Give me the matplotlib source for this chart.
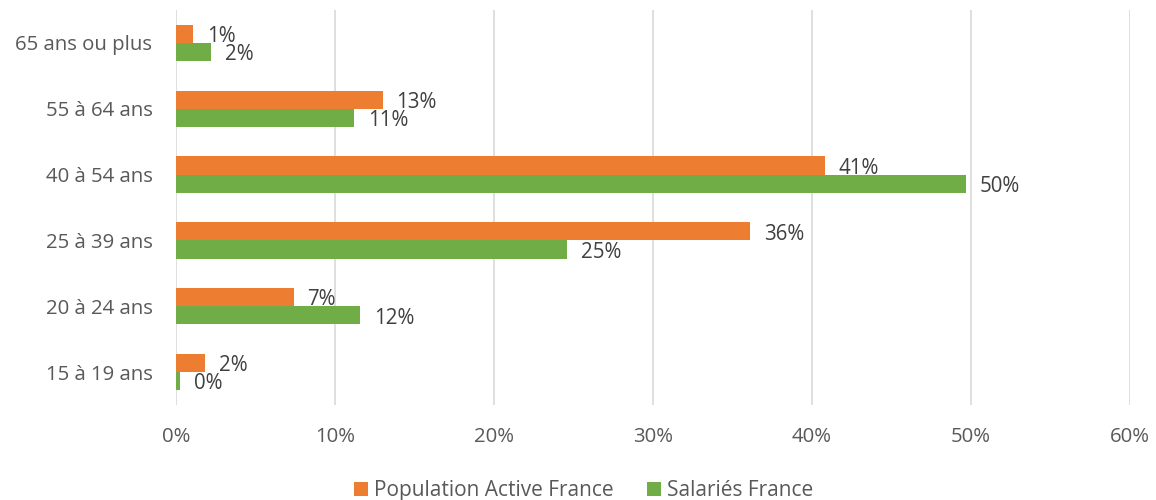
import numpy as np
import matplotlib.pyplot as plt

categories = ['15 à 19 ans', '20 à 24 ans', '25 à 39 ans', '40 à 54 ans', '55 à 64 ans', '65 ans ou plus']
population_active = [1.8, 7.4, 36.1, 40.8, 13.0, 1.1]
salaries = [0.25, 11.6, 24.6, 49.7, 11.2, 2.2]
series_names = ['Population Active France', 'Salariés France']
xticks = [0, 10, 20, 30, 40, 50, 60]

orange = '#ED7D31'
green = '#70AD47'
txt = '#595959'

plt.rcParams['font.family'] = ['Open Sans', 'DejaVu Sans']

fig = plt.figure(figsize=(11.56, 5.0), dpi=100)
ax = fig.add_axes([176 / 1156, 1 - 405 / 500, (1130 - 176) / 1156, 395 / 500])

y = np.arange(len(categories))
h = 0.275
b1 = ax.barh(y + h / 2, population_active, height=h, color=orange, label=series_names[0], zorder=2)
b2 = ax.barh(y - h / 2, salaries, height=h, color=green, label=series_names[1], zorder=2)

for bars, vals in ((b1, population_active), (b2, salaries)):
    for rect, v in zip(bars, vals):
        ax.annotate(f'{v:.0f}%', (rect.get_width(), rect.get_y() + rect.get_height() / 2),
                    xytext=(10, -2), textcoords='offset points', va='center', ha='left',
                    fontsize=14.8, color='#404040')

ax.set_xlim(0, 60)
ax.set_ylim(-0.5, len(categories) - 0.5)
ax.set_xticks(xticks)
ax.set_xticklabels([f'{t}%' for t in xticks])
ax.set_yticks(y)
ax.set_yticklabels(categories)
ax.tick_params(axis='both', length=0, labelsize=14.7, colors=txt)
ax.tick_params(axis='x', pad=16)
ax.tick_params(axis='y', pad=17)
ax.grid(axis='x', color='#D9D9D9', linewidth=1.2, zorder=0)
for s in ax.spines.values():
    s.set_visible(False)

fig.legend(handles=[b1, b2], loc='lower center', bbox_to_anchor=(0.505, -0.04), ncol=2,
           frameon=False, fontsize=15, handlelength=0.65, handleheight=0.65,
           handletextpad=0.3, columnspacing=1.6, labelcolor=txt)

fig.savefig('out.png', dpi=100)
